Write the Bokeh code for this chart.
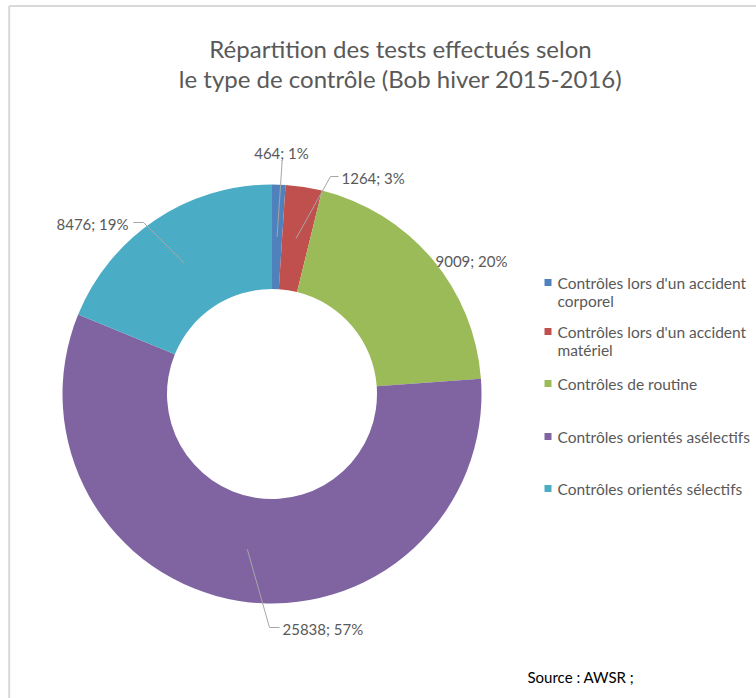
import math
from bokeh.plotting import figure
from bokeh.models import Range1d, ColumnDataSource
from bokeh.core.properties import value
from bokeh.embed import file_html
from bokeh.resources import INLINE

# ---- data ----
categories = [
    "Contrôles lors d'un accident corporel",
    "Contrôles lors d'un accident matériel",
    "Contrôles de routine",
    "Contrôles orientés asélectifs",
    "Contrôles orientés sélectifs",
]
legend_lines = [
    ["Contrôles lors d'un accident", "corporel"],
    ["Contrôles lors d'un accident", "matériel"],
    ["Contrôles de routine"],
    ["Contrôles orientés asélectifs"],
    ["Contrôles orientés sélectifs"],
]
values = [464, 1264, 9009, 25838, 8476]
colors = ["#4F81BD", "#C0504D", "#9BBB59", "#8064A2", "#4BACC6"]
title_lines = ["Répartition des tests effectués selon",
               "le type de contrôle (Bob hiver 2015-2016)"]
source_text = "Source : AWSR ;"

# ---- layout (page pixels -> figure coords) ----
W, H = 756, 698
def X(sx): return sx
def Y(sy): return H - sy

cx, cy = X(271.5), Y(393.5)
r_out, r_in = 209.5, 105.0
r_mid = (r_out + r_in) / 2

# label positions (page px): text anchor x, y, align, and leader-elbow
label_pos = [
    dict(x=281, y=152, align="center", elbow=None, top=(281.7, 160)),
    dict(x=341, y=177, align="left", elbow=(330, 176), top=(338, 176)),
    dict(x=435, y=260, align="left", elbow=None, top=None),
    dict(x=282, y=628, align="left", elbow=(269, 627), top=(279, 627)),
    dict(x=128, y=223, align="right", elbow=(143, 222), top=(133, 222)),
]

p = figure(width=W, height=H, x_range=Range1d(0, W), y_range=Range1d(0, H),
           output_backend="svg", toolbar_location=None, min_border=0)
p.axis.visible = False
p.grid.visible = False
p.outline_line_color = None
p.background_fill_color = "white"
p.border_fill_color = "white"

# border of chart area (left + top)
p.segment(x0=[X(8.7), X(8.7)], y0=[Y(H), Y(5.5)], x1=[X(8.7), X(W)], y1=[Y(5.5), Y(5.5)],
          line_color="#D9D9D9", line_width=2)

total = sum(values)
starts, ends, mids = [], [], []
acc = 0
for v in values:
    a0 = math.pi / 2 - 2 * math.pi * acc / total
    a1 = math.pi / 2 - 2 * math.pi * (acc + v) / total
    starts.append(a0)
    ends.append(a1)
    mids.append((a0 + a1) / 2)
    acc += v

src = ColumnDataSource(dict(start=starts, end=ends, color=colors,
                            x=[cx] * 5, y=[cy] * 5))
p.annular_wedge(x="x", y="y", inner_radius=r_in, outer_radius=r_out,
                start_angle="start", end_angle="end", direction="clock",
                fill_color="color", line_color=None, source=src)

# data labels + leader lines
label_texts = [f"{v}; {round(100 * v / total)}%" for v in values]
lx, ly, ltxt, lalign = [], [], [], []
xs_lines, ys_lines = [], []
for i, lp in enumerate(label_pos):
    lx.append(X(lp["x"]))
    ly.append(Y(lp["y"]))
    ltxt.append(label_texts[i])
    lalign.append(lp["align"])
    if lp["top"] is not None:
        ax = cx + r_mid * math.cos(mids[i])
        ay = cy + r_mid * math.sin(mids[i])
        pts = [lp["top"]]
        if lp["elbow"] is not None:
            pts.append(lp["elbow"])
        xs_lines.append([X(q[0]) for q in pts] + [ax])
        ys_lines.append([Y(q[1]) for q in pts] + [ay])

p.multi_line(xs=xs_lines, ys=ys_lines, line_color="#A6A6A6", line_width=1)
p.text(x=lx, y=ly, text=ltxt, text_align=lalign, text_baseline="middle",
       text_font=value("Lato"), text_font_size="15px", text_color="#595959")

# title
p.text(x=[X(400), X(400)], y=[Y(48), Y(78)], text=title_lines,
       text_align="center", text_baseline="middle",
       text_font=value("Lato"), text_font_size="24px", text_color="#595959")

# legend
leg_y_first = [282, 331, 383, 436, 488]
p.scatter(x=[X(547.5)] * 5, y=[Y(v) for v in leg_y_first], marker="square",
          size=7, fill_color=colors, line_color=None)
tx, ty, tt = [], [], []
for i, lines in enumerate(legend_lines):
    for j, t in enumerate(lines):
        tx.append(X(557))
        ty.append(Y(leg_y_first[i] + 18 * j))
        tt.append(t)
p.text(x=tx, y=ty, text=tt, text_align="left", text_baseline="middle",
       text_font=value("Lato"), text_font_size="15.5px", text_color="#595959")

# source
p.text(x=[X(527)], y=[Y(676)], text=[source_text], text_align="left",
       text_baseline="middle", text_font=value("Lato"),
       text_font_size="15px", text_color="#000000")

open("out.html", "w").write(file_html(p, INLINE))
